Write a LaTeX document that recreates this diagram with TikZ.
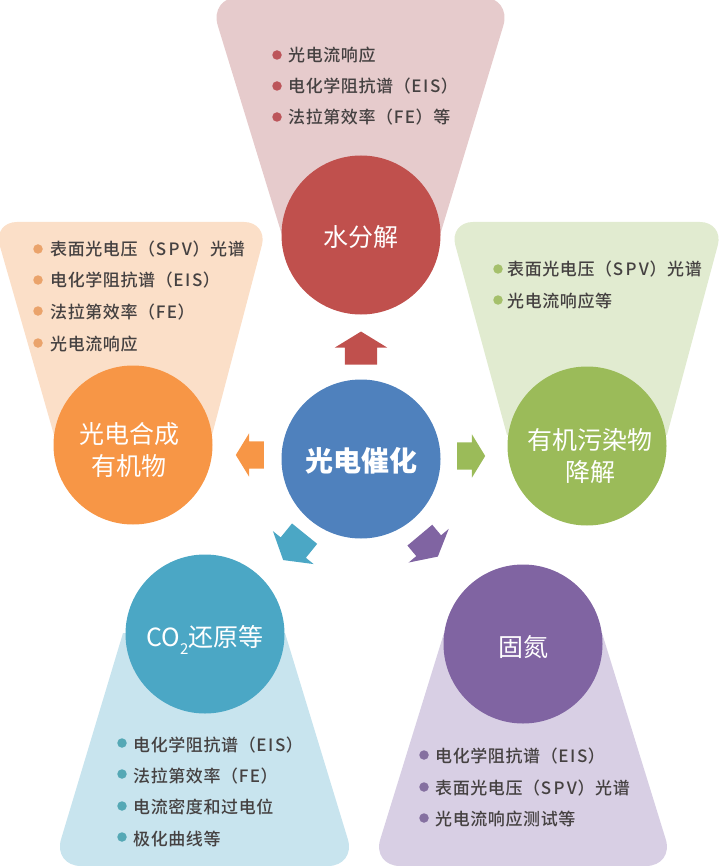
\documentclass[tikz,border=0pt]{standalone}
\usepackage{fontspec}
\usetikzlibrary{shapes.arrows}
\setmainfont{Noto Sans CJK SC}
\newfontfamily\itemfont[LetterSpace=3.5]{Noto Sans CJK SC Medium}
\definecolor{redmain}{HTML}{C0504D}
\definecolor{redpale}{HTML}{E6CBCC}
\definecolor{reddot}{HTML}{BC555A}
\definecolor{orangemain}{HTML}{F79646}
\definecolor{orangepale}{HTML}{FBDFC8}
\definecolor{orangedot}{HTML}{EAA36B}
\definecolor{greenmain}{HTML}{9BBB59}
\definecolor{greenpale}{HTML}{E1EBD0}
\definecolor{greendot}{HTML}{A5C06B}
\definecolor{tealmain}{HTML}{4BA7C5}
\definecolor{tealpale}{HTML}{C8E4EE}
\definecolor{tealdot}{HTML}{55A8B5}
\definecolor{purplemain}{HTML}{8064A2}
\definecolor{purplepale}{HTML}{D8CFE4}
\definecolor{purpledot}{HTML}{8570A0}
\definecolor{bluemain}{HTML}{4F81BD}
\definecolor{itemgray}{HTML}{454141}
\newcommand{\spv}{S\kern2.4pt P\kern2.4pt V}
\newcommand{\eis}{E\kern1.6pt I\kern1.6pt S}
\newcommand{\fe}{F\kern1.5pt E}
\tikzset{
  hub/.style={circle,fill=#1,minimum size=159pt,inner sep=0pt,text=white,align=center,
    text height=24pt,text depth=0pt,font=\fontsize{25}{32}\selectfont},
  hubtext/.style={inner sep=0pt,text=white,align=center,font=\fontsize{25}{32}\selectfont},
  blockarrow/.style={single arrow,fill=#1,inner xsep=0pt,inner ysep=16pt,single arrow tip angle=117,
    single arrow head extend=10pt,minimum height=33pt},
  smallarrow/.style={blockarrow=#1,inner ysep=13.5pt,single arrow head extend=8pt,minimum height=28pt},
  dot/.style={circle,fill=#1,minimum size=9.5pt,inner sep=0pt},
  entry/.style={anchor=west,inner sep=0pt,text=itemgray,text height=16pt,text depth=2pt,
    font=\fontsize{17}{20}\itemfont},
}
\begin{document}
\begin{tikzpicture}[x=1pt,y=-1pt]
  \useasboundingbox (0,0) rectangle (720,866);
  \clip (0,0) rectangle (720,866);
  % funnels
  \fill[redpale,rounded corners=30pt] (209,-3) -- (512,-3) [sharp corners] -- (440,235) -- (282,235) [rounded corners=30pt] -- cycle;
  \fill[orangepale,rounded corners=24pt] (-7,222) -- (268,222) [sharp corners] -- (212,435) -- (54,435) [rounded corners=24pt] -- cycle;
  \fill[greenpale,rounded corners=24pt] (449,222) -- (724,222) [sharp corners] -- (667,435) -- (507,435) [rounded corners=24pt] -- cycle;
  \fill[tealpale,rounded corners=28pt] (53,866) -- (356,866) [sharp corners] -- (285,633) -- (123,633) [rounded corners=28pt] -- cycle;
  \fill[purplepale,rounded corners=28pt] (372,866) -- (674,866) [sharp corners] -- (602,633) -- (444,633) [rounded corners=28pt] -- cycle;
  % circles
  \node[hub=redmain] (water) at (361,235) {水分解};
  \node[hub=orangemain] (organic) at (133,445) {};
  \node[hub=greenmain] (degrade) at (587,446) {};
  \node[hub=tealmain] (reduce) at (205,634) {CO\raisebox{-0.35em}{\fontsize{15}{15}\selectfont 2}还原等};
  \node[hub=purplemain] (nitrogen) at (523,644) {固氮};
  \node[hub=bluemain,font=\fontsize{28}{32}\selectfont\bfseries] (photo) at (361,459) {光电催化};
  \node[hubtext] (organictext) at (129,449.5) {光电合成\\有机物};
  \node[hubtext] (degradetext) at (590,456) {有机污染物\\降解};
  % arrows
  \node[blockarrow=redmain,rotate=90] (upper) at (361,353) {};
  \node[smallarrow=greenmain] (righter) at (467,456) {};
  \node[smallarrow=orangemain,rotate=180] (lefter) at (254,455) {};
  \node[blockarrow=tealmain,minimum height=34pt,rotate=231] (downleft) at (297,543) {};
  \node[blockarrow=purplemain,minimum height=28pt,single arrow tip angle=123,rotate=-50] (downright) at (426,542.5) {};
  % top list
  \node[dot=reddot] (w1) at (277,55) {};
  \node[dot=reddot] (w2) at (277,86) {};
  \node[dot=reddot] (w3) at (277,117) {};
  \node[entry] (wt1) at (288,55) {光电流响应};
  \node[entry] (wt2) at (288,86) {电化学阻抗谱（\eis）};
  \node[entry] (wt3) at (288,117) {法拉第效率（\fe）等};
  % left list
  \node[dot=orangedot] (o1) at (38,249) {};
  \node[dot=orangedot] (o2) at (38,280) {};
  \node[dot=orangedot] (o3) at (38,311) {};
  \node[dot=orangedot] (o4) at (38,343) {};
  \node[entry] (ot1) at (50,249) {表面光电压（\spv）光谱};
  \node[entry] (ot2) at (50,280) {电化学阻抗谱（\eis）};
  \node[entry] (ot3) at (50,311) {法拉第效率（\fe）};
  \node[entry] (ot4) at (50,343) {光电流响应};
  % right list
  \node[dot=greendot] (g1) at (498,269) {};
  \node[dot=greendot] (g2) at (498,300) {};
  \node[entry] (gt1) at (507,269) {表面光电压（\spv）光谱};
  \node[entry] (gt2) at (507,300) {光电流响应等};
  % bottom left list
  \node[dot=tealdot] (t1) at (122,743) {};
  \node[dot=tealdot] (t2) at (122,774) {};
  \node[dot=tealdot] (t3) at (122,806) {};
  \node[dot=tealdot] (t4) at (122,837) {};
  \node[entry] (tt1) at (133,744) {电化学阻抗谱（\eis）};
  \node[entry] (tt2) at (133,775) {法拉第效率（\fe）};
  \node[entry] (tt3) at (133,806) {电流密度和过电位};
  \node[entry] (tt4) at (133,838) {极化曲线等};
  % bottom right list
  \node[dot=purpledot] (p1) at (424,755) {};
  \node[dot=purpledot] (p2) at (424,787) {};
  \node[dot=purpledot] (p3) at (424,818) {};
  \node[entry] (pt1) at (435,755) {电化学阻抗谱（\eis）};
  \node[entry] (pt2) at (435,787) {表面光电压（\spv）光谱};
  \node[entry] (pt3) at (435,818) {光电流响应测试等};
\end{tikzpicture}
\end{document}
